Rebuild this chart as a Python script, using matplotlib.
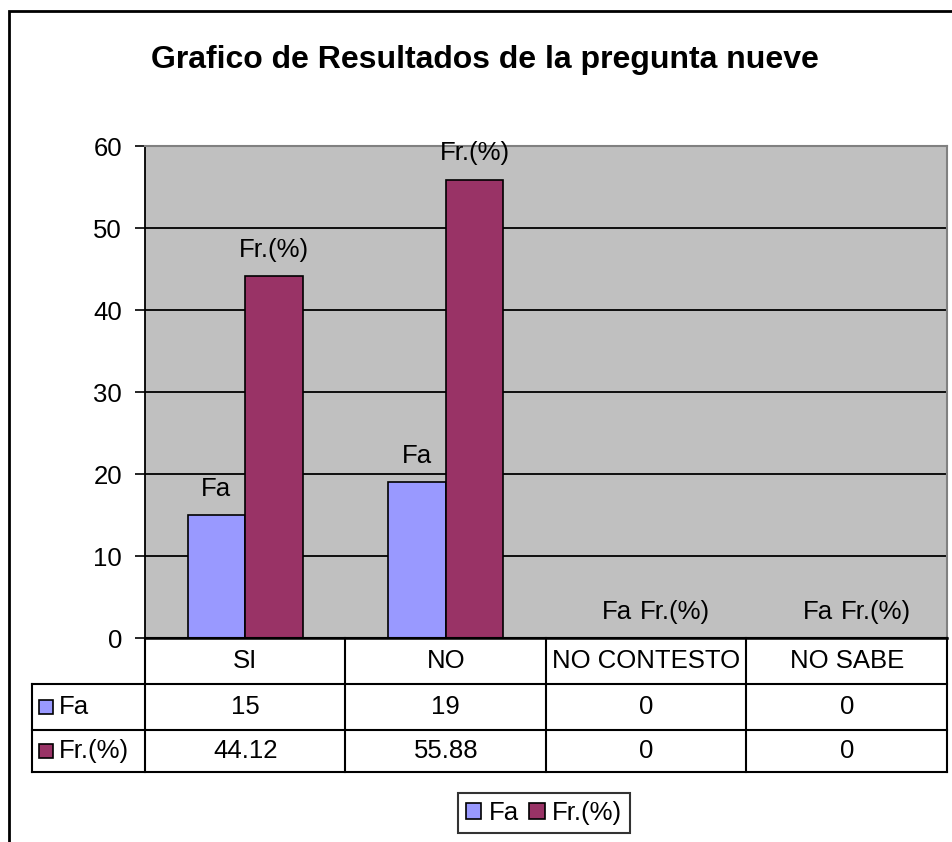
import matplotlib.pyplot as plt
from matplotlib.patches import Rectangle
import numpy as np

plt.rcParams['font.family'] = ['Liberation Sans', 'DejaVu Sans']

categories = ['SI', 'NO', 'NO CONTESTO', 'NO SABE']
fa = [15, 19, 0, 0]
fr = [44.12, 55.88, 0, 0]
fa_txt = ['15', '19', '0', '0']
fr_txt = ['44.12', '55.88', '0', '0']
series = ['Fa', 'Fr.(%)']
colors = ['#9999FF', '#993366']

FS = 18.5
W, H = 953, 842
fig = plt.figure(figsize=(W / 100, H / 100), dpi=100)

def box(x0, y0, x1, y1):
    return [x0 / W, 1 - y1 / H, (x1 - x0) / W, (y1 - y0) / H]

# outer chart border
fig.patches.append(Rectangle((9 / W, -0.1), 1.2, 1 - 11 / H + 0.1, transform=fig.transFigure,
                             fill=False, edgecolor='black', linewidth=2))

fig.text(485 / W, 1 - 60 / H, 'Grafico de Resultados de la pregunta nueve',
         ha='center', va='center', fontsize=23, fontweight='bold')

ax = fig.add_axes(box(145, 146, 947, 638))
ax.set_facecolor('#C0C0C0')
x = np.arange(len(categories))
bw = 0.2875
b1 = ax.bar(x - bw / 2, fa, bw, color=colors[0], edgecolor='black', linewidth=1.2, zorder=3)
b2 = ax.bar(x + bw / 2, fr, bw, color=colors[1], edgecolor='black', linewidth=1.2, zorder=3)
for bars, name in [(b1, series[0]), (b2, series[1])]:
    for r in bars:
        ax.annotate(name, (r.get_x() + r.get_width() / 2, r.get_height()),
                    xytext=(0, 14), textcoords='offset points', ha='center', va='baseline',
                    fontsize=FS)
ax.set_xlim(-0.5, 3.5)
ax.set_ylim(0, 60)
ax.set_yticks(range(0, 61, 10))
ax.yaxis.grid(True, color='black', linewidth=1.3, zorder=1)
ax.set_axisbelow(True)
ax.set_xticks([])
ax.tick_params(axis='y', labelsize=FS, length=7, width=1.2, direction='out', pad=9.5)
for s in ['top', 'right']:
    ax.spines[s].set_color('#808080')
    ax.spines[s].set_linewidth(1.5)
ax.spines['left'].set_linewidth(1.3)
ax.spines['bottom'].set_linewidth(1.8)

# data table below the plot
left_units = (145 - 32) / 200.5
x0 = -0.5 - left_units
tb = fig.add_axes(box(32, 638, 947, 772))
tb.set_xlim(x0, 3.5)
tb.set_ylim(2.9, 0)
tb.axis('off')
lw = 1.5
rows = [0, 1.0, 2.0, 2.9]
tb.plot([-0.5, 3.5], [rows[0]] * 2, color='black', linewidth=lw, clip_on=False)
for yy in rows[1:]:
    tb.plot([x0, 3.5], [yy, yy], color='black', linewidth=lw, clip_on=False)
for xx in np.arange(-0.5, 3.6, 1):
    tb.plot([xx, xx], [rows[0], rows[3]], color='black', linewidth=lw, clip_on=False)
tb.plot([x0, x0], [rows[1], rows[3]], color='black', linewidth=lw, clip_on=False)
mids = [(rows[k] + rows[k + 1]) / 2 for k in range(3)]
for i, c in enumerate(categories):
    tb.text(i, mids[0], c, ha='center', va='center', fontsize=FS)
    tb.text(i, mids[1], fa_txt[i], ha='center', va='center', fontsize=FS)
    tb.text(i, mids[2], fr_txt[i], ha='center', va='center', fontsize=FS)
for j, (name, col) in enumerate(zip(series, colors)):
    tb.add_patch(Rectangle((x0 + 0.035, mids[1 + j] - 0.15), 0.068, 0.3,
                           facecolor=col, edgecolor='black', linewidth=1.2, clip_on=False))
    tb.text(x0 + 0.135, mids[1 + j], name, ha='left', va='center', fontsize=FS)

handles = [Rectangle((0, 0), 1, 1, facecolor=c, edgecolor='black', linewidth=1.2) for c in colors]
leg = fig.legend(handles, series, loc='center', bbox_to_anchor=(544 / W, 1 - 813 / H), ncol=2,
                 fontsize=FS, frameon=True, fancybox=False, edgecolor='black',
                 handlelength=0.6, handleheight=0.6, handletextpad=0.3, columnspacing=0.4,
                 borderpad=0.3, borderaxespad=0)
leg.get_frame().set_linewidth(1.5)

fig.savefig('out.png', dpi=100)
